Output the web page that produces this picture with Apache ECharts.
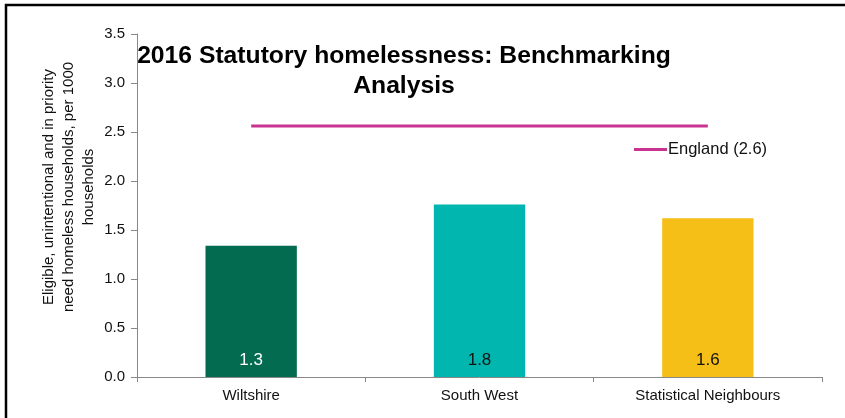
<!DOCTYPE html>
<html>
<head>
<meta charset="utf-8">
<script src="https://cdn.jsdelivr.net/npm/echarts@6/dist/echarts.min.js"></script>
<style>
  html, body { margin: 0; padding: 0; background: #fff; }
  #chart { width: 845px; height: 418px; }
</style>
</head>
<body>
<div id="chart"></div>
<script>
// data
const categories = ['Wiltshire', 'South West', 'Statistical Neighbours']
const rates = [1.34, 1.76, 1.62]
const barColors = ['#036B50', '#00B6AE', '#F6BF18']
const labelColors = ['#fff', '#111', '#111']
const englandRate = 2.56
const englandLine = categories.map(() => englandRate)
const yTicks = [0, 0.5, 1, 1.5, 2, 2.5, 3, 3.5]

const font = '"Liberation Sans", Arial, sans-serif'
const englandName = 'England (' + englandRate.toFixed(1) + ')'

const chart = echarts.init(document.getElementById('chart'))
chart.setOption({
  animation: false,
  textStyle: { fontFamily: font },
  title: {
    text: '2016 Statutory homelessness: Benchmarking\nAnalysis',
    left: 399,
    top: 36,
    textAlign: 'center',
    textStyle: { fontSize: 24.7, fontWeight: 'bold', color: '#000', lineHeight: 30 }
  },
  legend: {
    data: [{ name: englandName, icon: 'rect' }],
    left: 634,
    top: 141,
    padding: 0,
    itemWidth: 33,
    itemHeight: 3,
    itemGap: 2,
    textStyle: { fontSize: 16.5, color: '#111', padding: [0, 0, 0, -4] }
  },
  grid: { left: 137, right: 23, top: 34, bottom: 41 },
  xAxis: {
    type: 'category',
    data: categories,
    axisLine: { lineStyle: { color: '#888', width: 1 } },
    axisTick: { show: true, length: 5, lineStyle: { color: '#888' } },
    axisLabel: { fontSize: 15, color: '#111', margin: 11 }
  },
  yAxis: {
    type: 'value',
    min: 0,
    max: yTicks[yTicks.length - 1],
    interval: 0.5,
    axisLine: { show: true, lineStyle: { color: '#888', width: 1 } },
    axisTick: { show: true, length: 6, lineStyle: { color: '#888' } },
    splitLine: { show: false },
    axisLabel: {
      fontSize: 15,
      color: '#111',
      margin: 12,
      formatter: v => v.toFixed(1)
    }
  },
  series: [
    {
      name: 'rate',
      type: 'bar',
      barWidth: '40%',
      data: rates.map((v, i) => ({
        value: v,
        itemStyle: { color: barColors[i] },
        label: { color: labelColors[i] }
      })),
      label: {
        show: true,
        position: 'insideBottom',
        distance: 8,
        fontSize: 17,
        formatter: p => p.value.toFixed(1)
      }
    },
    {
      name: englandName,
      type: 'line',
      data: englandLine,
      symbol: 'none',
      lineStyle: { color: '#C8338F', width: 3 },
      itemStyle: { color: '#C8338F' }
    }
  ],
  graphic: [
    {
      type: 'text',
      x: 69,
      y: 187,
      rotation: Math.PI / 2,
      style: {
        text: 'Eligible, unintentional and in priority\nneed homeless households, per 1000\nhouseholds',
        font: '15px ' + font,
        fill: '#111',
        align: 'center',
        verticalAlign: 'middle',
        lineHeight: 20
      }
    },
    {
      type: 'polyline',
      shape: { points: [[6, 430], [6, 5], [860, 5]] },
      style: { stroke: '#000', lineWidth: 2.5, fill: null }
    }
  ]
})
</script>
</body>
</html>
